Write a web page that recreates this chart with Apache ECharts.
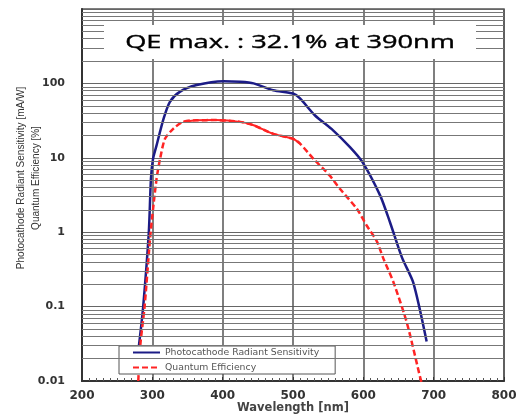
<!DOCTYPE html>
<html>
<head>
<meta charset="utf-8">
<script src="https://cdn.jsdelivr.net/npm/echarts@6/dist/echarts.min.js"></script>
<style>
  html, body { margin: 0; padding: 0; background: #fff; }
  #chart { width: 516px; height: 414px; }
</style>
</head>
<body>
<div id="chart"></div>
<script>
// Photocathode radiant sensitivity [mA/W]
const sensWavelength = [281, 287, 295, 298, 301, 306, 316, 325, 339, 363, 401, 425, 444, 472, 500, 510, 531, 557, 581, 599, 624, 638, 655, 671, 690];
const sensValue = [0.03, 0.1, 1, 5.2, 9.7, 14.7, 33.6, 56.6, 77, 95, 107, 105, 100, 81, 73, 62.7, 37.3, 23.4, 13.9, 8.7, 3.1, 1.35, 0.455, 0.21, 0.034];

// Quantum efficiency [%]
const qeWavelength = [280, 283, 289, 297.6, 306, 311, 318, 330, 344, 363, 390, 425, 444, 472, 500, 510, 529, 552, 567, 591, 605, 619, 628, 643, 662, 681, 683];
const qeValue = [0.01, 0.031, 0.1, 1, 5.2, 9.7, 18, 24.7, 30.5, 32, 32.1, 30.4, 27.4, 21, 18, 15.5, 9.7, 5.8, 3.8, 2.05, 1.22, 0.76, 0.455, 0.21, 0.06, 0.011, 0.0095];

const xTicks = [200, 300, 400, 500, 600, 700, 800];
const yDecades = [0.01, 0.1, 1, 10, 100];

const sensData = sensWavelength.map((w, i) => [w, sensValue[i]]);
const qeData = qeWavelength.map((w, i) => [w, qeValue[i]]);
// the flat top of the QE curve looks solid in the reference
const qeSolidData = qeData.map(p => (p[0] >= 335 && p[0] <= 512 ? p : [p[0], null]));

// log minor grid: 2..9 within each decade
const minorGrid = [];
yDecades.forEach(d => { for (let k = 2; k <= 9; k++) minorGrid.push(+(d * k).toPrecision(3)); });

const chart = echarts.init(document.getElementById('chart'));
const labelFont = 'DejaVu Sans, Verdana, sans-serif';

chart.setOption({
  animation: false,
  backgroundColor: '#fff',
  grid: { left: 82, right: 12, top: 9, bottom: 33, outerBoundsMode: 'none', containLabel: false,
    show: true, borderColor: '#555', borderWidth: 1.5 },
  graphic: [
    { type: 'rect', z: 10, shape: { x: 104, y: 25, width: 372, height: 34 }, style: { fill: '#fff' } },
    { type: 'text', z: 11, x: 290, y: 43, scaleX: 1.43,
      style: { text: 'QE max. : 32.1% at 390nm', fontSize: 19, fontFamily: 'Open Sans, sans-serif', fill: '#000',
        stroke: '#000', lineWidth: 0.4, align: 'center', verticalAlign: 'middle' } }
  ],
  legend: {
    orient: 'vertical', left: 119, top: 346,
    padding: [2, 16, 2, 13], itemWidth: 27, itemHeight: 9, itemGap: 6,
    backgroundColor: '#fff', borderColor: '#555', borderWidth: 1,
    itemStyle: { opacity: 0 },
    textStyle: { fontSize: 9.3, fontFamily: labelFont, color: '#555' },
    data: ['Photocathode Radiant Sensitivity', 'Quantum Efficiency']
  },
  xAxis: {
    type: 'value', min: 200, max: 800, interval: 100,
    name: 'Wavelength [nm]', nameLocation: 'middle', nameGap: 21, nameMoveOverlap: false,
    nameTextStyle: { fontSize: 11.5, fontWeight: 'bold', fontFamily: labelFont, color: '#444' },
    axisLine: { lineStyle: { color: '#333', width: 2 } },
    axisTick: { show: true, inside: true, length: 4, lineStyle: { color: '#333' } },
    minorTick: { show: true, splitNumber: 10, length: 3, lineStyle: { color: '#555' } },
    axisLabel: { fontSize: 12, fontWeight: 'bold', fontFamily: labelFont, color: '#333', margin: 9,
      formatter: v => (xTicks.includes(v) ? String(v) : '') },
    splitLine: { show: true, lineStyle: { color: '#555', width: 1.5 } }
  },
  yAxis: {
    type: 'log', logBase: 10, min: 0.01, max: 1000,
    name: 'Photocathode Radiant Sensitivity [mA/W]\nQuantum Efficiency [%]',
    nameLocation: 'middle', nameGap: 38, nameRotate: 90, nameMoveOverlap: false,
    nameTextStyle: { fontSize: 10, fontFamily: 'Liberation Sans Narrow, Arial Narrow, sans-serif', color: '#333', lineHeight: 15, padding: [0, 0, 0, 34] },
    axisLine: { show: true, lineStyle: { color: '#333', width: 2 } },
    axisTick: { show: false },
    axisLabel: { fontSize: 11, fontWeight: 'bold', fontFamily: labelFont, color: '#333', margin: 17,
      formatter: v => (yDecades.includes(v) ? String(v) : '') },
    splitLine: { show: true, lineStyle: { color: '#666', width: 1 } }
  },
  series: [
    {
      type: 'line', name: 'grid', data: [], z: 1, silent: true,
      markLine: {
        silent: true, symbol: ['none', 'none'], label: { show: false }, animation: false,
        lineStyle: { color: '#777', width: 1, type: 'solid' },
        emphasis: { disabled: true },
        data: minorGrid.map(v => ({ yAxis: v }))
      }
    },
    {
      type: 'line', name: 'Photocathode Radiant Sensitivity', data: sensData,
      smooth: 0.25, showSymbol: false, symbol: 'none', z: 3,
      lineStyle: { color: '#1c1c86', width: 2.5 }, itemStyle: { color: '#1c1c86' }
    },
    {
      type: 'line', name: 'Quantum Efficiency', data: qeData,
      smooth: 0.25, showSymbol: false, symbol: 'none', z: 3,
      lineStyle: { color: '#ff2424', width: 2.5, type: [6, 3] }, itemStyle: { color: '#ff2424' }
    },
    {
      type: 'line', name: 'Quantum Efficiency', data: qeSolidData,
      smooth: 0.25, showSymbol: false, symbol: 'none', z: 3, connectNulls: false,
      lineStyle: { color: '#ff2424', width: 2 }, itemStyle: { color: '#ff2424' }
    }
  ]
});
</script>
</body>
</html>
